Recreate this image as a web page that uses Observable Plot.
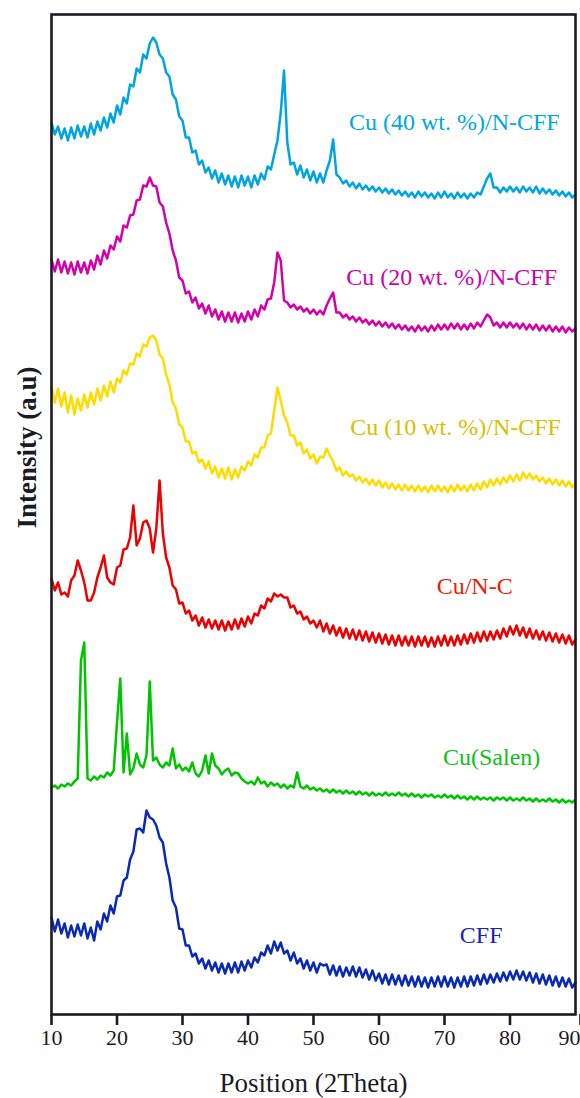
<!DOCTYPE html>
<html>
<head>
<meta charset="utf-8">
<script src="https://cdn.jsdelivr.net/npm/d3@7"></script>
<script src="https://cdn.jsdelivr.net/npm/@observablehq/plot@0.6"></script>
<style>
  html, body { margin: 0; padding: 0; background: #fff; }
  #chart svg { display: block; }
</style>
</head>
<body>
<div id="chart"></div>
<script>
// 2θ grid of the scans (degrees)
const theta = [
  10,10.5,11,11.5,12,12.5,13,13.5,14,14.5,15,15.5,16,16.5,17,17.5,18,18.5,19,19.5,
  20,20.5,21,21.5,22,22.5,23,23.5,24,24.5,25,25.5,26,26.5,27,27.5,28,28.5,29,29.5,
  30,30.5,31,31.5,32,32.5,33,33.5,34,34.5,35,35.5,36,36.5,37,37.5,38,38.5,39,39.5,
  40,40.5,41,41.5,42,42.5,43,43.5,44,44.5,45,45.5,46,46.5,47,47.5,48,48.5,49,49.5,
  50,50.5,51,51.5,52,52.5,53,53.5,54,54.5,55,55.5,56,56.5,57,57.5,58,58.5,59,59.5,
  60,60.5,61,61.5,62,62.5,63,63.5,64,64.5,65,65.5,66,66.5,67,67.5,68,68.5,69,69.5,
  70,70.5,71,71.5,72,72.5,73,73.5,74,74.5,75,75.5,76,76.5,77,77.5,78,78.5,79,79.5,
  80,80.5,81,81.5,82,82.5,83,83.5,84,84.5,85,85.5,86,86.5,87,87.5,88,88.5,89,89.5,
  90
];

// Stacked intensities (a.u.)
const cu40 = [
  878,866,874,862,872,860,873,862,875,864,874,863,877,866,879,870,883,873,887,878,
  895,886,903,897,916,914,932,928,946,942,957,963,958,946,942,928,924,906,901,884,
  880,863,863,848,850,836,840,828,833,822,830,818,827,816,825,814,824,813,825,815,
  824,813,825,816,827,821,834,831,846,860,888,930,858,836,838,826,835,823,831,820,
  829,818,827,818,830,840,861,826,823,817,820,814,818,812,817,811,815,810,814,809,
  813,808,812,807,811,806,810,805,809,804,808,803,809,804,808,803,807,802,808,803,
  809,803,807,802,808,803,807,802,807,803,808,806,814,822,827,813,813,808,813,809,
  814,809,813,808,814,809,813,808,814,807,812,807,811,806,810,805,809,804,808,803,
  806
];
const cu20 = [
  741,729,741,728,739,727,738,726,739,728,738,727,740,731,745,736,750,742,755,751,
  764,759,775,773,785,786,800,801,815,814,823,815,814,798,794,778,767,750,740,723,
  720,707,709,698,703,692,697,687,695,684,691,681,689,679,688,679,688,678,687,679,
  689,681,691,684,695,691,701,702,718,748,740,700,698,693,696,691,694,689,692,687,
  691,686,690,686,695,702,708,688,688,683,686,681,684,679,683,678,681,676,680,675,
  679,674,678,673,677,672,676,671,675,670,674,669,675,670,674,669,675,670,676,671,
  676,671,677,672,677,671,676,671,677,672,678,674,680,686,683,675,678,673,678,673,
  678,673,677,672,677,671,676,671,676,670,675,670,675,669,674,669,674,668,673,669,
  672
];
const cu10 = [
  614,598,612,594,608,588,605,586,602,590,606,593,608,596,612,600,615,604,619,608,
  622,618,630,626,637,636,647,644,656,654,663,665,660,646,642,626,616,598,592,576,
  573,559,559,547,549,538,541,532,539,527,534,523,532,522,533,521,531,523,534,530,
  539,535,546,543,553,553,565,567,590,613,600,585,578,565,565,555,558,547,551,542,
  546,537,544,543,552,545,539,530,533,525,529,524,526,520,524,518,522,516,521,515,
  520,513,518,512,517,511,516,510,516,510,515,509,515,509,514,508,515,509,515,509,
  514,508,515,509,516,510,515,509,516,510,517,511,519,513,521,515,522,516,523,518,
  525,519,526,520,528,522,527,521,525,519,523,517,522,516,521,515,520,514,519,513,
  518
];
const cuNC = [
  422,410,418,406,408,404,420,425,440,430,418,400,400,408,423,433,445,423,418,416,
  433,435,451,452,463,495,455,462,478,480,472,448,472,520,467,443,433,415,411,397,
  398,387,390,380,385,375,383,373,381,372,380,371,380,370,379,371,381,372,382,374,
  384,377,387,385,395,392,402,399,407,404,406,403,403,393,395,387,389,381,384,377,
  380,373,380,369,377,367,375,365,373,363,372,362,371,361,370,360,369,359,368,358,
  367,357,366,356,365,355,365,355,364,355,364,354,364,355,364,354,363,354,364,355,
  365,355,364,355,365,356,366,357,367,358,368,359,369,360,369,361,370,362,372,364,
  374,366,375,365,373,363,372,362,370,361,369,360,368,359,367,358,366,357,365,356,
  361
];
const cuSalen = [
  213,215,212,216,214,217,215,219,222,340,358,222,220,224,221,225,223,228,225,230,
  278,322,228,267,226,232,247,236,233,245,319,240,243,236,233,238,235,252,232,236,
  230,233,229,238,227,224,230,245,227,247,235,232,226,230,232,225,228,227,222,219,
  217,219,216,223,217,219,214,218,215,217,213,216,212,215,213,228,214,212,215,211,
  213,210,212,209,211,208,211,208,210,207,210,207,209,206,209,206,208,205,208,205,
  207,205,208,205,207,205,208,205,207,204,207,204,206,203,206,204,206,203,205,203,
  206,203,205,202,205,202,204,201,204,201,204,201,203,201,203,200,203,201,203,200,
  203,200,202,200,203,200,202,199,202,199,201,199,202,199,201,198,201,198,200,198,
  201
];
const cff = [
  83,69,81,67,77,63,75,64,76,65,77,62,73,60,79,71,87,79,95,87,
  104,105,120,123,141,149,171,172,168,190,183,181,175,163,158,137,123,100,93,72,
  71,55,55,44,47,37,42,32,40,30,38,28,37,27,37,28,38,28,39,30,
  40,33,43,38,48,45,55,47,59,50,58,47,50,40,48,37,42,32,40,30,
  38,28,37,35,36,26,35,25,34,24,33,25,34,24,33,23,31,21,30,20,
  27,17,26,16,26,16,25,15,25,15,24,14,24,14,23,13,23,14,24,14,
  24,14,23,13,23,14,24,14,24,15,25,16,26,17,26,18,27,19,28,20,
  29,21,30,21,29,20,28,18,27,17,26,16,25,15,24,14,23,14,22,13,
  18
];

const seriesNames = ["Cu (40 wt. %)/N-CFF", "Cu (20 wt. %)/N-CFF", "Cu (10 wt. %)/N-CFF", "Cu/N-C", "Cu(Salen)", "CFF"];
const seriesValues = [cu40, cu20, cu10, cuNC, cuSalen, cff];
const lineColors = ["#00a4df", "#d400aa", "#ffdc00", "#ec0000", "#00c400", "#0a2ab4"];
const labelColors = ["#00a8e0", "#d000a8", "#d8c000", "#e82000", "#10c020", "#1a22b0"];
const labelTheta = [71.5, 71.1, 71.7, 74.6, 77.2, 75.6];
const labelIntensity = [878, 723, 573, 414, 243, 65];
const xTicks = [10, 20, 30, 40, 50, 60, 70, 80, 90];

const rows = [];
seriesValues.forEach((vals, i) => {
  vals.forEach((v, j) => rows.push({theta: theta[j], intensity: v, series: seriesNames[i]}));
});

const labelMarks = seriesNames.map((name, i) =>
  Plot.text([{theta: labelTheta[i], intensity: labelIntensity[i], name}], {
    x: "theta", y: "intensity", text: "name",
    fill: labelColors[i], fontSize: 24, textAnchor: "middle", lineAnchor: "middle"
  })
);

const ink = "#1b1b26";
const lastTick = xTicks[xTicks.length - 1];
const chart = Plot.plot({
  width: 580,
  height: 1098,
  marginTop: 14,
  marginBottom: 84,
  marginLeft: 51,
  marginRight: 5,
  x: {domain: [10, 90]},
  y: {domain: [-14, 986], axis: null},
  color: {domain: seriesNames, range: lineColors},
  style: {fontFamily: "'Liberation Serif', 'DejaVu Serif', serif", background: "white", color: ink},
  marks: [
    Plot.line(rows, {x: "theta", y: "intensity", z: "series", stroke: "series", strokeWidth: 2.5, strokeLinejoin: "round"}),
    Plot.frame({stroke: ink, strokeWidth: 2.6}),
    Plot.axisX({ticks: xTicks.filter(t => t !== lastTick), tickSize: 11, tickPadding: 4, stroke: ink, strokeWidth: 2.6, fontSize: 22, label: null, tickFormat: d => String(d)}),
    Plot.axisX({ticks: [lastTick], tickSize: 11, tickPadding: 4, stroke: ink, strokeWidth: 2.6, fontSize: 22, label: null, textAnchor: "end", dx: 5, tickFormat: d => String(d)}),
    ...labelMarks,
    Plot.text(["Position (2Theta)"], {frameAnchor: "bottom", dy: 69, fontSize: 27, fill: ink, lineAnchor: "middle"}),
    Plot.text(["Intensity (a.u)"], {frameAnchor: "left", dx: -24, dy: 14, rotate: -90, fontSize: 27, fontWeight: "bold", fill: ink, lineAnchor: "middle"})
  ]
});
document.getElementById("chart").appendChild(chart);
</script>
</body>
</html>
